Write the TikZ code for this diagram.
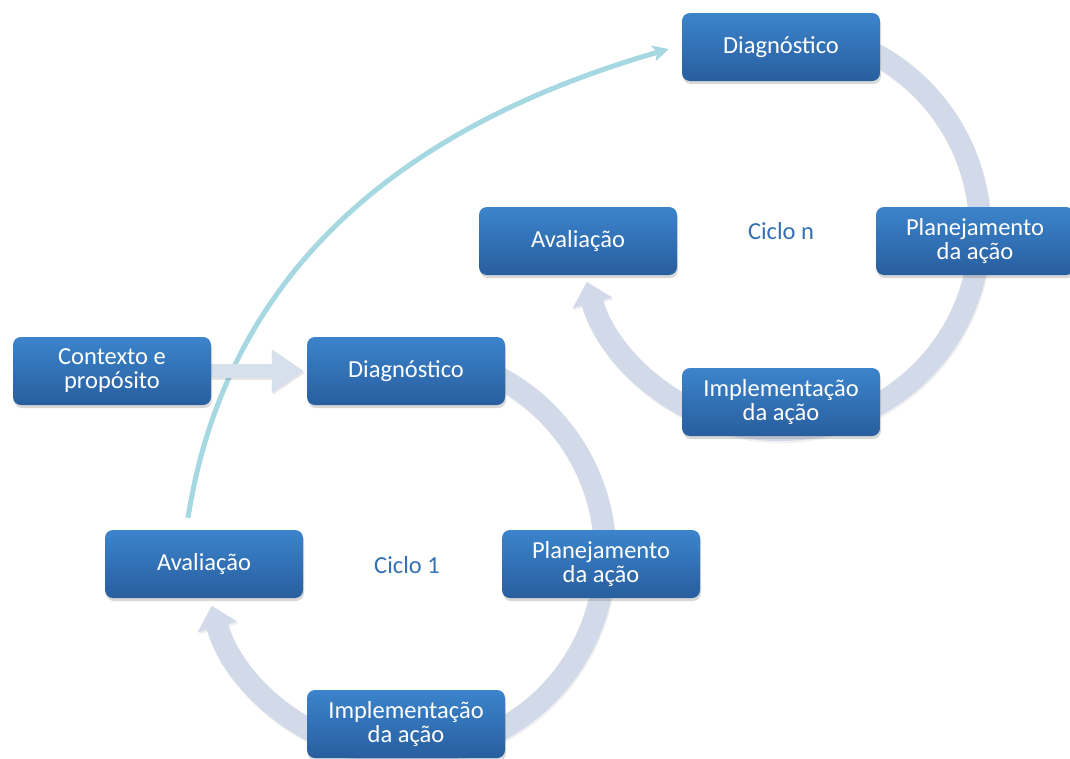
\documentclass[tikz,border=0pt]{standalone}
\usepackage{fontspec}
\setmainfont{Carlito}
\usetikzlibrary{arrows.meta,shadows}

\definecolor{boxtop}{RGB}{60,132,204}
\definecolor{boxbot}{RGB}{40,94,158}
\definecolor{ringcol}{RGB}{210,217,232}
\definecolor{tealcol}{RGB}{166,216,226}
\definecolor{blockcol}{RGB}{214,223,236}
\definecolor{labelcol}{RGB}{52,112,180}

\pgfdeclarelayer{bgfill}
\pgfdeclarelayer{conn}
\pgfsetlayers{bgfill,conn,main}

\tikzset{
  stage/.style={rounded corners=8pt, minimum width=198pt, minimum height=68pt,
    inner sep=2pt, draw=none, top color=boxtop, bottom color=boxbot,
    text=white, align=center, font=\fontsize{24.5}{24}\selectfont,
    drop shadow={shadow xshift=1pt, shadow yshift=-3pt, opacity=0.3}},
  cyclelabel/.style={text=labelcol, font=\fontsize{24.5}{24}\selectfont},
  ring/.style={draw=ringcol, line width=22pt,
    -{Triangle[width=40pt,length=22pt]}},
  ringshadow/.style={draw=black, opacity=0.06, line width=22pt,
    -{Triangle[width=40pt,length=22pt]}},
  nextcycle/.style={draw=tealcol, line width=5pt,
    -{Stealth[width=16pt,length=16pt,inset=4pt]}},
  blockarrow/.style={draw=blockcol, line width=14pt,
    -{Triangle[width=41pt,length=32pt]}},
}

\begin{document}
\begin{tikzpicture}[x=1pt,y=-1pt]
\useasboundingbox (0,0) rectangle (1070,758);
\begin{pgfonlayer}{bgfill}
  \fill[white] (0,0) rectangle (1070,758);
\end{pgfonlayer}

% entry box
\node[stage] (ctx) at (112,371) {Contexto e\\propósito};

% first cycle
\node[stage] (d1) at (406,371) {Diagnóstico};
\node[stage] (p1) at (601,564) {Planejamento\\da ação};
\node[stage] (i1) at (406,724) {Implementação\\da ação};
\node[stage] (a1) at (204,564) {Avaliação};
\node[cyclelabel] (l1) at (407,565) {Ciclo 1};
\coordinate (c1) at (405,554);

% n-th cycle
\node[stage] (dn) at (781,47) {Diagnóstico};
\node[stage] (pn) at (975,241) {Planejamento\\da ação};
\node[stage] (imn) at (781,402) {Implementação\\da ação};
\node[stage] (an) at (578,241) {Avaliação};
\node[cyclelabel] (ln) at (781,231) {Ciclo n};
\coordinate (cn) at (780,230);

\begin{pgfonlayer}{conn}
  % circular arrows of each cycle, running behind the boxes
  \foreach \c in {c1,cn} {
    \draw[ringshadow] ([shift={(-70:200)},xshift=1pt,yshift=-2pt]\c)
      arc[start angle=-70,end angle=165,radius=200];
    \draw[ring] ([shift={(-70:200)}]\c)
      arc[start angle=-70,end angle=165,radius=200];
  }
  % from the evaluation of cycle 1 to the diagnosis of cycle n
  \draw[nextcycle] ([xshift=-16pt,yshift=12pt]a1.north)
    .. controls (230,250) and (430,118) .. ([xshift=-13pt,yshift=-2pt]dn.west);
  % context leads into the first diagnosis
  \draw[blockarrow, draw=black, opacity=0.10]
    ([xshift=-2pt,yshift=-2pt]ctx.east) -- ([xshift=-2pt,yshift=-2pt]d1.west);
  \draw[blockarrow] ([xshift=-4pt]ctx.east) -- ([xshift=-3pt]d1.west);
\end{pgfonlayer}
\end{tikzpicture}
\end{document}
